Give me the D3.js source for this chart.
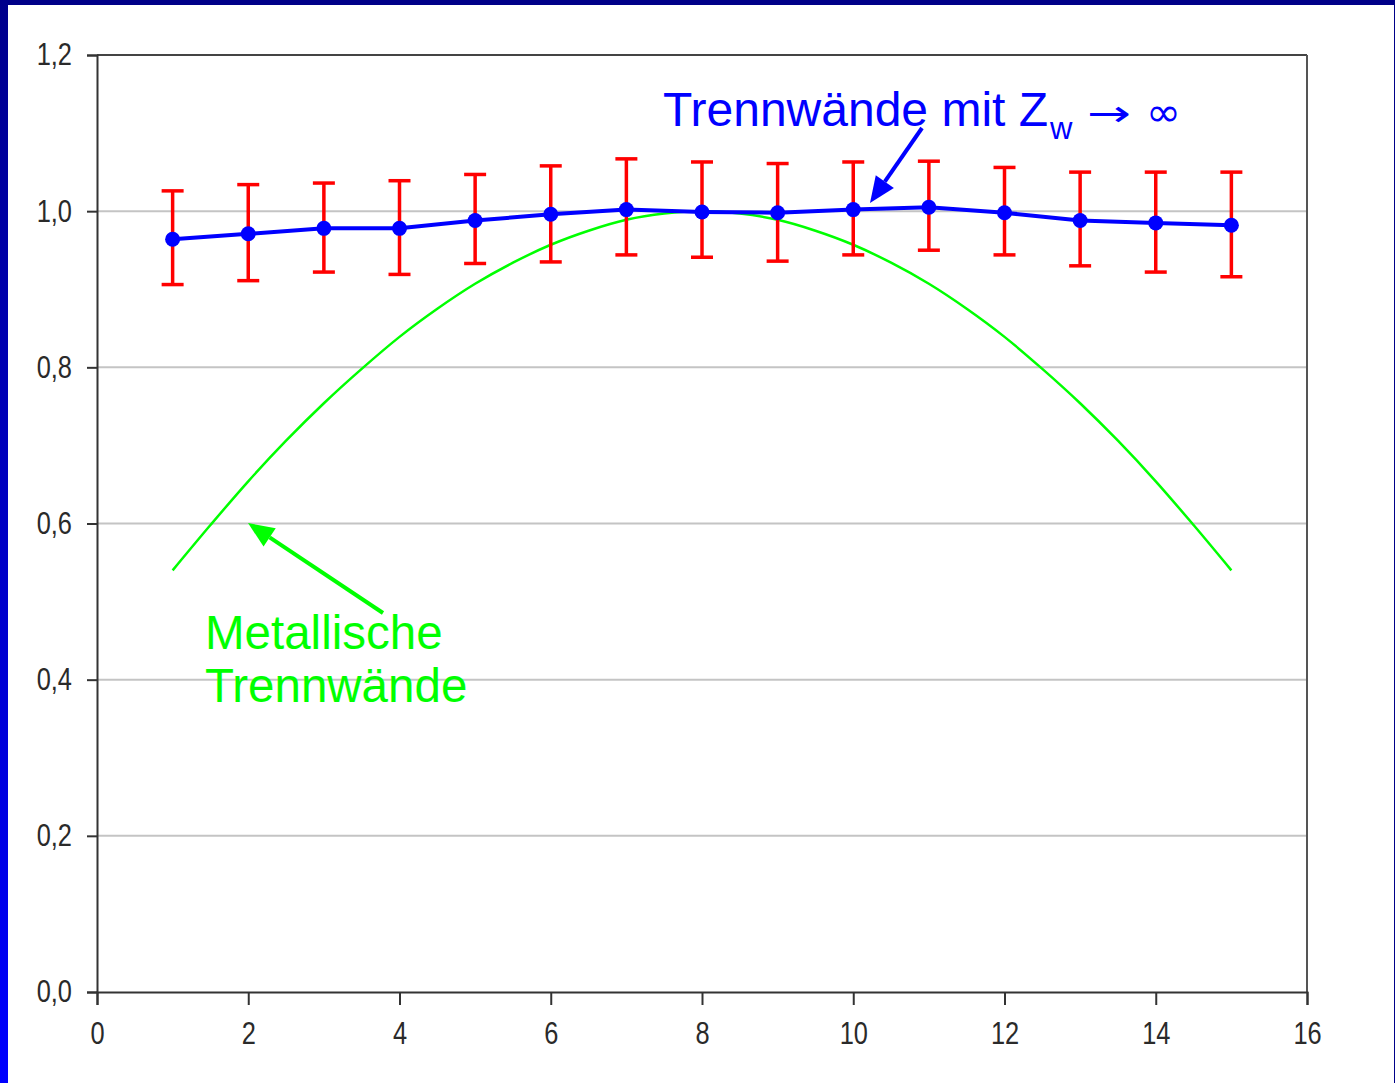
<!DOCTYPE html>
<html><head><meta charset="utf-8">
<script src="https://cdn.jsdelivr.net/npm/d3@7"></script>
<style>
html,body{margin:0;padding:0;background:#fff;overflow:hidden}
svg{display:block}
</style></head><body>
<script>
// ---- data ----
const xs = [1,2,3,4,5,6,7,8,9,10,11,12,13,14,15];
const blueValues = [0.964,0.971,0.978,0.978,0.988,0.996,1.002,0.999,0.998,1.002,1.005,0.998,0.988,0.985,0.982];
const errUpper   = [1.026,1.034,1.036,1.039,1.047,1.058,1.067,1.063,1.061,1.063,1.064,1.056,1.050,1.050,1.050];
const errLower   = [0.906,0.911,0.922,0.919,0.933,0.935,0.944,0.941,0.936,0.944,0.950,0.944,0.930,0.922,0.916];
const greenX = [1,1.5,2,2.5,3,3.5,4,4.5,5,5.5,6,6.5,7,7.5,8,8.5,9,9.5,10,10.5,11,11.5,12,12.5,13,13.5,14,14.5,15];
const greenValues = [0.54,0.598,0.654,0.706,0.754,0.798,0.839,0.875,0.907,0.934,0.957,0.975,0.989,0.997,1.0,0.997,0.989,0.975,0.957,0.934,0.907,0.875,0.839,0.798,0.754,0.706,0.654,0.598,0.54];
const xTicks = [0,2,4,6,8,10,12,14,16];
const yTicks = [0,0.2,0.4,0.6,0.8,1.0,1.2];
const yTickLabels = ["0,0","0,2","0,4","0,6","0,8","1,0","1,2"];

const W = 1395, H = 1083;
const svg = d3.select("body").append("svg").attr("width", W).attr("height", H);
const defs = svg.append("defs");
const lg = defs.append("linearGradient").attr("id","lbar").attr("x1",0).attr("y1",0).attr("x2",0).attr("y2",1);
lg.append("stop").attr("offset","0%").attr("stop-color","#00008c");
lg.append("stop").attr("offset","100%").attr("stop-color","#0000ff");

// frame
svg.append("rect").attr("x",0).attr("y",0).attr("width",W).attr("height",H).attr("fill","#fff");
svg.append("rect").attr("x",0).attr("y",0).attr("width",W).attr("height",5).attr("fill","#000088");
svg.append("rect").attr("x",0).attr("y",0).attr("width",8).attr("height",H).attr("fill","url(#lbar)");
svg.append("rect").attr("x",1394).attr("y",0).attr("width",1).attr("height",H).attr("fill","#000088");

const x = d3.scaleLinear().domain([0,16]).range([97,1307]);
const y = d3.scaleLinear().domain([0,1.2]).range([992,55]);

// grid
svg.append("g").selectAll("line").data(yTicks.filter(d=>d>0 && d<1.2)).join("line")
  .attr("x1",x(0)).attr("x2",x(16)).attr("y1",d=>y(d)).attr("y2",d=>y(d))
  .attr("stroke","#c4c4c4").attr("stroke-width",2);

// top & right border
svg.append("line").attr("x1",x(0)).attr("x2",x(16)).attr("y1",y(1.2)).attr("y2",y(1.2)).attr("stroke","#444").attr("stroke-width",2);
svg.append("line").attr("x1",x(16)).attr("x2",x(16)).attr("y1",y(1.2)).attr("y2",y(0)).attr("stroke","#555").attr("stroke-width",2);

const tickFont = "'Liberation Sans',Arial,sans-serif";
const sx = 0.82;

// axes
const yAxis = d3.axisLeft(y).tickValues(yTicks).tickSize(10).tickPadding(15)
  .tickFormat((d,i)=>yTickLabels[i]);
const gy = svg.append("g").attr("transform",`translate(${x(0)},0)`).call(yAxis);
const xAxis = d3.axisBottom(x).tickValues(xTicks).tickSize(13).tickPadding(17).tickFormat(d=>String(d));
const gx = svg.append("g").attr("transform",`translate(0,${y(0)})`).call(xAxis);
[gx,gy].forEach(g=>{
  g.select(".domain").attr("stroke","#333").attr("stroke-width",2);
  g.selectAll(".tick line").attr("stroke","#333").attr("stroke-width",2);
  g.selectAll(".tick text").attr("fill","#2a2a2a").style("font-family",tickFont).style("font-size","31px")
    .style("font-weight","normal");
});
gx.selectAll(".tick text").attr("transform",`scale(${sx},1)`);
gy.selectAll(".tick text").attr("x",-25/sx).attr("transform",`scale(${sx},1)`);

// green curve
const gline = d3.line().x((d,i)=>x(greenX[i])).y(d=>y(d)).curve(d3.curveCatmullRom);
svg.append("path").datum(greenValues).attr("d",gline).attr("fill","none").attr("stroke","#00ff00").attr("stroke-width",2.5);

// error bars
const eb = svg.append("g").attr("stroke","#ff0000").attr("stroke-width",3.5);
xs.forEach((xv,i)=>{
  eb.append("line").attr("x1",x(xv)).attr("x2",x(xv)).attr("y1",y(errUpper[i])).attr("y2",y(errLower[i]));
  eb.append("line").attr("x1",x(xv)-11).attr("x2",x(xv)+11).attr("y1",y(errUpper[i])).attr("y2",y(errUpper[i]));
  eb.append("line").attr("x1",x(xv)-11).attr("x2",x(xv)+11).attr("y1",y(errLower[i])).attr("y2",y(errLower[i]));
});

// blue line
const bline = d3.line().x((d,i)=>x(xs[i])).y(d=>y(d));
svg.append("path").datum(blueValues).attr("d",bline).attr("fill","none").attr("stroke","#0000ff").attr("stroke-width",4);
svg.append("g").selectAll("circle").data(blueValues).join("circle")
  .attr("cx",(d,i)=>x(xs[i])).attr("cy",d=>y(d)).attr("r",7.5).attr("fill","#0000ff");

// arrows
function arrow(x1,y1,x2,y2,color){
  const ang = Math.atan2(y2-y1,x2-x1);
  const L = 26, Wd = 11;
  const bx = x2 - L*Math.cos(ang), by = y2 - L*Math.sin(ang);
  svg.append("line").attr("x1",x1).attr("y1",y1).attr("x2",bx).attr("y2",by).attr("stroke",color).attr("stroke-width",4);
  const px = -Math.sin(ang)*Wd, py = Math.cos(ang)*Wd;
  svg.append("path").attr("d",`M${x2},${y2}L${bx+px},${by+py}L${bx-px},${by-py}Z`).attr("fill",color);
}
arrow(922,128,870,203,"#0000ff");
arrow(383,613,248,523,"#00ff00");

// annotations
const annFont = "Arial,'Liberation Sans',sans-serif";
const t1 = svg.append("text").attr("x",663).attr("y",126).attr("fill","#0000ff")
  .style("font-family",annFont).style("font-size","48px");
t1.append("tspan").text("Trennwände mit Z");
t1.append("tspan").attr("dy",13).attr("dx",2).style("font-size","31px").text("w");
svg.append("text").attr("x",1087).attr("y",126).attr("fill","#0000ff")
  .attr("textLength",44).attr("lengthAdjust","spacingAndGlyphs")
  .style("font-family","'DejaVu Sans',sans-serif").style("font-size","36px").text("→");
svg.append("text").attr("x",1146).attr("y",126).attr("fill","#0000ff")
  .attr("textLength",35).attr("lengthAdjust","spacingAndGlyphs")
  .style("font-family","'DejaVu Sans',sans-serif").style("font-size","40px").text("∞");

svg.append("text").attr("x",205).attr("y",649).attr("fill","#00ff00")
  .style("font-family",annFont).style("font-size","47.5px").text("Metallische");
svg.append("text").attr("x",205).attr("y",702).attr("fill","#00ff00")
  .style("font-family",annFont).style("font-size","47.5px").text("Trennwände");
</script>
</body></html>
